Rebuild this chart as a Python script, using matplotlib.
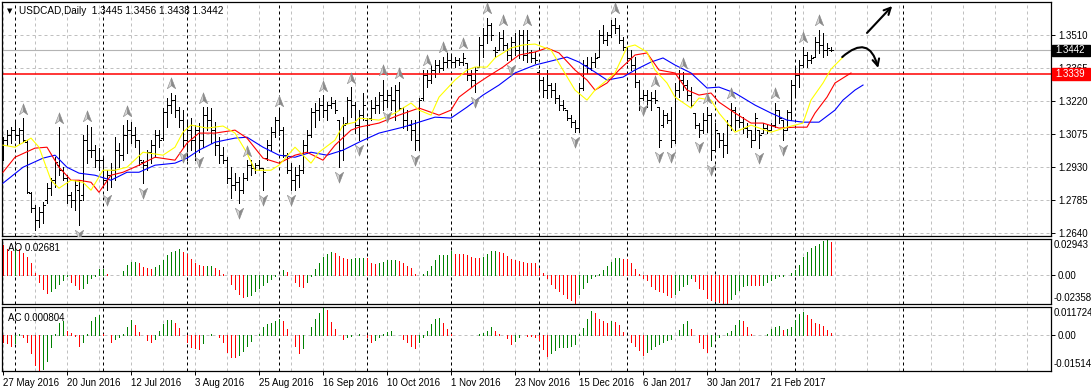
import matplotlib
matplotlib.use("Agg")
import matplotlib.pyplot as plt
import matplotlib.transforms as mtransforms
from matplotlib.collections import LineCollection
from matplotlib.patches import Rectangle
from matplotlib.path import Path
import numpy as np

plt.rcParams['font.family'] = ['Liberation Sans', 'DejaVu Sans']

# ---------------- data (USDCAD daily, 27 May 2016 .. 14 Mar 2017) ----------------
highs = [
    1.3061, 1.3092, 1.3105, 1.3127, 1.3101, 1.3145, 1.3048, 1.2819,
    1.2762, 1.2753, 1.2775, 1.2859, 1.2881, 1.2973, 1.3105, 1.2929,
    1.2894, 1.2819, 1.2872, 1.2872, 1.3070, 1.3114, 1.3105, 1.3026,
    1.3013, 1.2973, 1.2916, 1.2947, 1.3061, 1.3035, 1.3114, 1.3136,
    1.3127, 1.3105, 1.3048, 1.2960, 1.3004, 1.3048, 1.3092, 1.3092,
    1.3189, 1.3233, 1.3255, 1.3246, 1.3193, 1.3180, 1.3127, 1.3145,
    1.3114, 1.3123, 1.3193, 1.3193, 1.3189, 1.3127, 1.3061, 1.3017,
    1.2973, 1.2929, 1.2903, 1.2885, 1.2903, 1.2960, 1.2960, 1.2947,
    1.2960, 1.2925, 1.3048, 1.3105, 1.3149, 1.3180, 1.3105, 1.2991,
    1.2947, 1.2929, 1.2938, 1.3048, 1.3092, 1.3189, 1.3211, 1.3233,
    1.3246, 1.3215, 1.3237, 1.3224, 1.3136, 1.3149, 1.3237, 1.3281,
    1.3215, 1.3180, 1.3255, 1.3145, 1.3224, 1.3237, 1.3259, 1.3312,
    1.3268, 1.3281, 1.3290, 1.3303, 1.3193, 1.3180, 1.3136, 1.3136,
    1.3233, 1.3356, 1.3356, 1.3378, 1.3400, 1.3400, 1.3413, 1.3431,
    1.3422, 1.3413, 1.3409, 1.3431, 1.3387, 1.3356, 1.3369, 1.3501,
    1.3541, 1.3585, 1.3563, 1.3457, 1.3523, 1.3532, 1.3475, 1.3501,
    1.3519, 1.3532, 1.3532, 1.3532, 1.3444, 1.3435, 1.3356, 1.3325,
    1.3356, 1.3299, 1.3299, 1.3246, 1.3224, 1.3180, 1.3158, 1.3136,
    1.3299, 1.3400, 1.3413, 1.3413, 1.3431, 1.3532, 1.3554, 1.3523,
    1.3576, 1.3585, 1.3554, 1.3501, 1.3457, 1.3444, 1.3413, 1.3312,
    1.3268, 1.3268, 1.3259, 1.3268, 1.3193, 1.3180, 1.3167, 1.3193,
    1.3299, 1.3356, 1.3347, 1.3312, 1.3281, 1.3167, 1.3123, 1.3167,
    1.3193, 1.3167, 1.3123, 1.3079, 1.3079, 1.3136, 1.3211, 1.3193,
    1.3167, 1.3149, 1.3123, 1.3092, 1.3167, 1.3092, 1.3123, 1.3114,
    1.3123, 1.3211, 1.3180, 1.3136, 1.3180, 1.3312, 1.3369, 1.3400,
    1.3457, 1.3435, 1.3422, 1.3501, 1.3532, 1.3519, 1.3475, 1.3456,
]
lows = [
    1.2960, 1.3026, 1.3035, 1.3048, 1.3035, 1.3039, 1.2815, 1.2731,
    1.2652, 1.2665, 1.2683, 1.2771, 1.2806, 1.2841, 1.2894, 1.2872,
    1.2771, 1.2753, 1.2740, 1.2674, 1.2784, 1.2947, 1.2973, 1.2929,
    1.2916, 1.2850, 1.2828, 1.2841, 1.2872, 1.2929, 1.2960, 1.2991,
    1.3035, 1.3017, 1.2938, 1.2859, 1.2916, 1.2947, 1.2973, 1.3017,
    1.3048, 1.3105, 1.3167, 1.3149, 1.3105, 1.3017, 1.2960, 1.3004,
    1.2960, 1.2995, 1.3017, 1.3092, 1.3035, 1.2982, 1.2947, 1.2947,
    1.2859, 1.2793, 1.2828, 1.2771, 1.2815, 1.2872, 1.2894, 1.2903,
    1.2916, 1.2828, 1.2960, 1.3004, 1.3061, 1.3070, 1.2973, 1.2903,
    1.2828, 1.2828, 1.2841, 1.2903, 1.2991, 1.3061, 1.3105, 1.3136,
    1.3149, 1.3136, 1.3189, 1.3167, 1.2929, 1.2960, 1.3123, 1.3149,
    1.3079, 1.3048, 1.3136, 1.3061, 1.3136, 1.3167, 1.3167, 1.3180,
    1.3193, 1.3180, 1.3136, 1.3180, 1.3101, 1.3092, 1.3048, 1.3004,
    1.3004, 1.3224, 1.3281, 1.3299, 1.3325, 1.3347, 1.3356, 1.3369,
    1.3378, 1.3369, 1.3378, 1.3378, 1.3312, 1.3281, 1.3259, 1.3369,
    1.3413, 1.3475, 1.3488, 1.3413, 1.3444, 1.3444, 1.3400, 1.3400,
    1.3422, 1.3409, 1.3400, 1.3391, 1.3391, 1.3387, 1.3268, 1.3237,
    1.3233, 1.3237, 1.3211, 1.3180, 1.3180, 1.3136, 1.3105, 1.3083,
    1.3083, 1.3268, 1.3343, 1.3356, 1.3369, 1.3413, 1.3475, 1.3466,
    1.3501, 1.3519, 1.3475, 1.3444, 1.3387, 1.3356, 1.3281, 1.3180,
    1.3224, 1.3193, 1.3180, 1.3211, 1.3017, 1.3105, 1.3123, 1.3017,
    1.3035, 1.3237, 1.3268, 1.3224, 1.3193, 1.3101, 1.3061, 1.3079,
    1.3083, 1.2960, 1.3004, 1.3017, 1.2973, 1.2991, 1.3092, 1.3092,
    1.3105, 1.3079, 1.3061, 1.3017, 1.3048, 1.3013, 1.3079, 1.3079,
    1.3092, 1.3105, 1.3123, 1.3048, 1.3092, 1.3136, 1.3237, 1.3281,
    1.3369, 1.3369, 1.3387, 1.3413, 1.3431, 1.3413, 1.3422, 1.3438,
]
opens = [
    1.2982, 1.3048, 1.3070, 1.3092, 1.3070, 1.3092, 1.3039, 1.2815,
    1.2749, 1.2696, 1.2731, 1.2784, 1.2837, 1.2872, 1.2938, 1.2916,
    1.2881, 1.2806, 1.2784, 1.2828, 1.2806, 1.3048, 1.3004, 1.3004,
    1.2960, 1.2960, 1.2872, 1.2894, 1.2916, 1.3004, 1.2982, 1.3070,
    1.3092, 1.3070, 1.3048, 1.2951, 1.2938, 1.2995, 1.3026, 1.3070,
    1.3057, 1.3171, 1.3202, 1.3224, 1.3180, 1.3136, 1.3048, 1.3092,
    1.3048, 1.3092, 1.3048, 1.3158, 1.3136, 1.3092, 1.3026, 1.2982,
    1.2960, 1.2881, 1.2850, 1.2863, 1.2828, 1.2881, 1.2938, 1.2925,
    1.2938, 1.2925, 1.2969, 1.3026, 1.3083, 1.3136, 1.3092, 1.2982,
    1.2916, 1.2872, 1.2894, 1.2916, 1.3026, 1.3070, 1.3171, 1.3180,
    1.3202, 1.3180, 1.3202, 1.3211, 1.3136, 1.3004, 1.3123, 1.3224,
    1.3202, 1.3114, 1.3158, 1.3136, 1.3145, 1.3189, 1.3202, 1.3246,
    1.3224, 1.3246, 1.3224, 1.3268, 1.3189, 1.3136, 1.3114, 1.3092,
    1.3048, 1.3233, 1.3334, 1.3312, 1.3356, 1.3378, 1.3365, 1.3391,
    1.3400, 1.3391, 1.3400, 1.3391, 1.3387, 1.3334, 1.3312, 1.3369,
    1.3466, 1.3510, 1.3554, 1.3444, 1.3444, 1.3497, 1.3466, 1.3422,
    1.3479, 1.3444, 1.3510, 1.3422, 1.3435, 1.3409, 1.3347, 1.3312,
    1.3268, 1.3290, 1.3268, 1.3233, 1.3202, 1.3180, 1.3145, 1.3127,
    1.3101, 1.3277, 1.3378, 1.3365, 1.3391, 1.3413, 1.3510, 1.3488,
    1.3510, 1.3554, 1.3541, 1.3488, 1.3457, 1.3409, 1.3378, 1.3303,
    1.3233, 1.3246, 1.3224, 1.3233, 1.3193, 1.3114, 1.3158, 1.3136,
    1.3048, 1.3268, 1.3312, 1.3290, 1.3246, 1.3167, 1.3114, 1.3092,
    1.3136, 1.3158, 1.3004, 1.3079, 1.3048, 1.3026, 1.3114, 1.3180,
    1.3136, 1.3127, 1.3101, 1.3092, 1.3048, 1.3092, 1.3079, 1.3101,
    1.3092, 1.3114, 1.3180, 1.3136, 1.3092, 1.3171, 1.3290, 1.3334,
    1.3378, 1.3422, 1.3400, 1.3413, 1.3479, 1.3466, 1.3444, 1.3445,
]
closes = [
    1.3048, 1.3070, 1.3092, 1.3070, 1.3092, 1.3048, 1.2819, 1.2749,
    1.2696, 1.2731, 1.2762, 1.2837, 1.2872, 1.2951, 1.2916, 1.2881,
    1.2806, 1.2784, 1.2850, 1.2784, 1.3048, 1.3004, 1.3004, 1.2960,
    1.2960, 1.2872, 1.2894, 1.2916, 1.3004, 1.2982, 1.3070, 1.3092,
    1.3070, 1.3048, 1.2960, 1.2938, 1.2995, 1.3026, 1.3070, 1.3048,
    1.3171, 1.3202, 1.3224, 1.3180, 1.3136, 1.3048, 1.3092, 1.3048,
    1.3092, 1.3048, 1.3158, 1.3136, 1.3092, 1.3026, 1.2982, 1.2960,
    1.2881, 1.2850, 1.2863, 1.2828, 1.2881, 1.2938, 1.2925, 1.2938,
    1.2925, 1.2907, 1.3026, 1.3083, 1.3136, 1.3092, 1.2982, 1.2916,
    1.2872, 1.2894, 1.2916, 1.3026, 1.3070, 1.3171, 1.3180, 1.3202,
    1.3180, 1.3202, 1.3211, 1.3180, 1.3004, 1.3114, 1.3224, 1.3202,
    1.3114, 1.3158, 1.3202, 1.3114, 1.3189, 1.3202, 1.3246, 1.3224,
    1.3246, 1.3224, 1.3268, 1.3189, 1.3136, 1.3114, 1.3092, 1.3048,
    1.3224, 1.3334, 1.3312, 1.3356, 1.3378, 1.3365, 1.3391, 1.3400,
    1.3391, 1.3400, 1.3391, 1.3409, 1.3334, 1.3312, 1.3356, 1.3466,
    1.3510, 1.3554, 1.3510, 1.3435, 1.3497, 1.3466, 1.3422, 1.3479,
    1.3444, 1.3510, 1.3422, 1.3488, 1.3409, 1.3400, 1.3312, 1.3268,
    1.3290, 1.3268, 1.3233, 1.3202, 1.3189, 1.3145, 1.3127, 1.3101,
    1.3277, 1.3378, 1.3365, 1.3391, 1.3409, 1.3510, 1.3488, 1.3510,
    1.3554, 1.3541, 1.3488, 1.3457, 1.3409, 1.3378, 1.3303, 1.3233,
    1.3246, 1.3224, 1.3233, 1.3224, 1.3048, 1.3158, 1.3136, 1.3048,
    1.3268, 1.3312, 1.3290, 1.3246, 1.3202, 1.3114, 1.3092, 1.3136,
    1.3158, 1.3004, 1.3092, 1.3048, 1.3026, 1.3114, 1.3180, 1.3136,
    1.3127, 1.3101, 1.3092, 1.3048, 1.3145, 1.3070, 1.3101, 1.3092,
    1.3114, 1.3180, 1.3145, 1.3092, 1.3171, 1.3290, 1.3334, 1.3378,
    1.3422, 1.3400, 1.3409, 1.3479, 1.3466, 1.3444, 1.3453, 1.3442,
]

# Alligator lines (already shifted forward, read at sample bars)
jaw_idx = [0, 5, 10, 13, 16, 19, 23, 27, 31, 34, 38, 43, 46, 49, 53, 58, 61, 65, 69, 73,
           77, 81, 85, 89, 94, 100, 104, 108, 112, 116, 120, 124, 128, 133, 136, 141, 144, 148, 151, 155,
           158, 162, 165, 168, 172, 176, 179, 183, 188, 192, 196, 200, 204, 208, 210, 213, 215]
jaw_vals = [1.2859, 1.2929, 1.2969, 1.2982, 1.2929, 1.2903, 1.2894, 1.2872, 1.2907, 1.2907,
            1.2938, 1.2947, 1.2969, 1.3004, 1.3039, 1.3057, 1.3061, 1.3017, 1.2982, 1.2973,
            1.2995, 1.2982, 1.3004, 1.3039, 1.3079, 1.3105, 1.3127, 1.3149, 1.3145, 1.3193,
            1.3246, 1.3290, 1.3343, 1.3378, 1.3391, 1.3413, 1.3391, 1.3347, 1.3312, 1.3325,
            1.3356, 1.3391, 1.3409, 1.3378, 1.3343, 1.3277, 1.3281, 1.3255, 1.3202, 1.3167,
            1.3136, 1.3127, 1.3127, 1.3180, 1.3224, 1.3268, 1.3290]
teeth_idx = [0, 3, 8, 11, 14, 17, 19, 22, 24, 27, 30, 34, 38, 43, 46, 49, 53, 58, 61, 65,
             69, 73, 76, 80, 83, 87, 89, 94, 99, 104, 109, 112, 114, 118, 121, 125, 129, 133, 136, 139,
             143, 146, 148, 151, 154, 158, 161, 164, 168, 171, 174, 177, 179, 183, 187, 190, 194, 198, 201, 203,
             206, 208, 212]
teeth_vals = [1.2907, 1.2973, 1.3013, 1.3017, 1.2929, 1.2872, 1.2872, 1.2863, 1.2819, 1.2894,
              1.2907, 1.2938, 1.2973, 1.2960, 1.3035, 1.3079, 1.3079, 1.3092, 1.3057, 1.2969,
              1.2947, 1.2982, 1.2995, 1.2960, 1.3026, 1.3092, 1.3105, 1.3123, 1.3158, 1.3189,
              1.3158, 1.3180, 1.3237, 1.3290, 1.3325, 1.3369, 1.3422, 1.3435, 1.3453, 1.3431,
              1.3356, 1.3312, 1.3268, 1.3299, 1.3356, 1.3422, 1.3431, 1.3356, 1.3343, 1.3268,
              1.3246, 1.3255, 1.3215, 1.3167, 1.3123, 1.3123, 1.3101, 1.3105, 1.3105, 1.3167,
              1.3237, 1.3299, 1.3343]
lips_idx = [0, 3, 7, 9, 12, 14, 17, 20, 22, 25, 28, 31, 35, 40, 43, 45, 47, 51, 55, 58,
            61, 63, 67, 69, 73, 77, 79, 83, 85, 88, 89, 94, 98, 102, 104, 107, 109, 113, 116, 118,
            121, 123, 127, 130, 133, 137, 140, 143, 146, 148, 151, 153, 156, 158, 161, 163, 166, 168, 172, 174,
            177, 179, 183, 187, 192, 196, 200, 202, 205, 207, 210]
lips_vals = [1.3026, 1.3017, 1.3057, 1.3017, 1.2872, 1.2837, 1.2872, 1.2863, 1.2828, 1.2916,
             1.2916, 1.2929, 1.2995, 1.2982, 1.3017, 1.3083, 1.3114, 1.3101, 1.3110, 1.3079,
             1.2991, 1.2916, 1.2916, 1.2938, 1.3017, 1.2947, 1.2995, 1.3048, 1.3114, 1.3127,
             1.3145, 1.3136, 1.3167, 1.3211, 1.3180, 1.3158, 1.3237, 1.3312, 1.3356, 1.3369,
             1.3369, 1.3409, 1.3453, 1.3466, 1.3470, 1.3444, 1.3356, 1.3268, 1.3224, 1.3268,
             1.3312, 1.3343, 1.3457, 1.3466, 1.3435, 1.3356, 1.3299, 1.3237, 1.3189, 1.3233,
             1.3224, 1.3167, 1.3083, 1.3114, 1.3083, 1.3105, 1.3123, 1.3224, 1.3299, 1.3360,
             1.3413]

# Fractal bars
fractal_up = [5, 14, 21, 31, 42, 50, 61, 69, 80, 87, 95, 99, 106, 110, 115, 121, 125, 131,
              153, 163, 170, 176, 182, 193, 200, 204]
fractal_down = [8, 19, 26, 35, 45, 49, 59, 65, 72, 84, 89, 96, 103, 118, 127, 143, 160, 164,
                167, 174, 177, 189, 195]

# Awesome Oscillator
ao = [0.0243, 0.0213, 0.0198, 0.0207, 0.0207, 0.0177, 0.0147, 0.0093, 0.0012, -0.0057,
      -0.0117, -0.0147, -0.0132, -0.0108, -0.0072, -0.0042, -0.0012, -0.0057, -0.0081, -0.0117,
      -0.0102, -0.0066, -0.0027, -0.0006, 0.0048, 0.0051, 0.0009, 0.0003, -0.0002, -0.0001,
      0.0033, 0.0078, 0.0102, 0.0105, 0.0099, 0.0063, 0.0054, 0.0048, 0.0063, 0.0084,
      0.0123, 0.0159, 0.0183, 0.0198, 0.0213, 0.0183, 0.0168, 0.0129, 0.0099, 0.0078,
      0.0072, 0.0073, 0.0075, 0.0057, 0.0039, 0.0009, -0.0003, -0.0072, -0.0117, -0.0153,
      -0.0183, -0.0171, -0.0162, -0.0132, -0.0102, -0.0081, -0.0057, -0.0036, -0.0009, 0.0003,
      0.0039, 0.0024, -0.0003, -0.0057, -0.0087, -0.0096, -0.0057, -0.0012, 0.0048, 0.0099,
      0.0147, 0.0168, 0.0183, 0.0177, 0.0153, 0.0138, 0.0132, 0.0133, 0.0135, 0.0138,
      0.0139, 0.0135, 0.0093, 0.0087, 0.0099, 0.0108, 0.0123, 0.0124, 0.0125, 0.0117,
      0.0093, 0.0069, 0.0057, 0.0009, 0.0001, 0.0009, 0.0033, 0.0072, 0.0123, 0.0159,
      0.0162, 0.0163, 0.0192, 0.0174, 0.0173, 0.0172, 0.0165, 0.0147, 0.0138, 0.0137,
      0.0144, 0.0168, 0.0192, 0.0198, 0.0183, 0.0177, 0.0153, 0.0129, 0.0123, 0.0117,
      0.0108, 0.0099, 0.0098, 0.0093, 0.0060, 0.0015,
      -0.0027, -0.0072, -0.0102, -0.0132, -0.0156, -0.0186, -0.0207, -0.0228, -0.0156, -0.0102,
      -0.0057, -0.0027, -0.0006, 0.0009, 0.0039, 0.0072, 0.0108, 0.0135, 0.0136, 0.0132,
      0.0129, 0.0093, 0.0048, 0.0009, -0.0021, -0.0042, -0.0087, -0.0117, -0.0132, -0.0141,
      -0.0162, -0.0183, -0.0153, -0.0126, -0.0087, -0.0072, -0.0027, -0.0051, -0.0102, -0.0117,
      -0.0186, -0.0201, -0.0213, -0.0222, -0.0228, -0.02358, -0.0192, -0.0156, -0.0123, -0.0087,
      -0.0081, -0.0082, -0.0083, -0.0084, -0.0078, -0.0057, -0.0042, -0.0021, -0.0009, -0.0006,
      -0.0001, 0.0012, 0.0039, 0.0078, 0.0147, 0.0189, 0.0222, 0.0237, 0.0252, 0.0273,
      0.02943, 0.02681]

# Accelerator Oscillator
ac = [-0.0032, -0.0035, -0.0045, -0.0035, 0.0002, -0.0008, -0.0029, -0.0077, -0.0128, -0.01514,
      -0.0141, -0.0109, -0.0053, 0.0002, 0.0051, 0.0059, 0.0016, 0.0006, -0.0006, -0.0048,
      -0.0029, 0.0002, 0.0056, 0.0075, 0.0083, 0.0003, -0.0002, -0.0032, -0.0019, -0.0008,
      0.0005, 0.0032, 0.0061, 0.0040, 0.0013, -0.0002, -0.0021, -0.0029, -0.0016, 0.0016,
      0.0043, 0.0061, 0.0062, 0.0048, 0.0029, -0.0002, -0.0029, -0.0053, -0.0056, -0.0058,
      -0.0035, -0.0002, 0.0002, -0.0003, -0.0008, -0.0032, -0.0072, -0.0091, -0.0093, -0.0083,
      -0.0069, -0.0045, -0.0024, -0.0002, 0.0003, 0.0032, 0.0043, 0.0051, 0.0058, 0.0064,
      0.0056, 0.0024, -0.0002, -0.0048, -0.0077, -0.0056, -0.0003, 0.0032, 0.0067, 0.0093,
      0.011724, 0.0104, 0.0054, 0.0024, -0.0003, -0.0019, -0.0010, -0.0005, -0.0002, 0.0002,
      0.0001, -0.0008, -0.0029, -0.0021, -0.0008, 0.0005, 0.0013, 0.0016, -0.0002, -0.0003,
      -0.0016, -0.0032, -0.0048, -0.0056, -0.0029, -0.0008, 0.0016, 0.0045, 0.0067, 0.0072,
      0.0051, 0.0024, 0.0003, -0.0002, -0.0001, -0.0002, -0.0003, 0.0001, -0.0003, 0.0003,
      0.0008, 0.0016, 0.0034, 0.0016, 0.0003, -0.0003, -0.0013, -0.0040, -0.0024, -0.0008,
      -0.0003, -0.0005, -0.0006, -0.0008, -0.0020, -0.0060, -0.0088, -0.0077, -0.0064, -0.0053,
      -0.0051, -0.0050, -0.0048, -0.0037, 0.0003, 0.0027, 0.0067, 0.0101, 0.0091, 0.0067,
      0.0056, 0.0051, 0.0056, 0.0054, 0.0040, 0.0013, -0.0002, -0.0029, -0.0045, -0.0064,
      -0.0083, -0.0072, -0.0061, -0.0048, -0.0040, -0.0032, -0.0022, -0.0016, -0.0003, 0.0019,
      0.0045, 0.0056, 0.0024, -0.0002, -0.0032, -0.0056, -0.0072, -0.0048, -0.0019, -0.0008,
      -0.0002, 0.0008, 0.0016, 0.0040, 0.0061, 0.0059, 0.0032, 0.0005, 0.0001, -0.0002,
      -0.0003, 0.0002, 0.0024, 0.0032, 0.0035, 0.0019, 0.0024, 0.0032, 0.0061, 0.0088,
      0.0096, 0.0083, 0.0067, 0.0051, 0.0045, 0.0035, 0.0019, 0.000804]

date_labels = ['27 May 2016', '20 Jun 2016', '12 Jul 2016', '3 Aug 2016', '25 Aug 2016',
               '16 Sep 2016', '10 Oct 2016', '1 Nov 2016', '23 Nov 2016', '15 Dec 2016',
               '6 Jan 2017', '30 Jan 2017', '21 Feb 2017']
date_label_idx = [0, 16, 32, 48, 64, 80, 96, 112, 128, 144, 160, 176, 192]
month_starts = [3, 25, 46, 69, 91, 112, 134, 156, 178, 198, 225]
price_levels = [1.2640, 1.2785, 1.2930, 1.3075, 1.3220, 1.3365, 1.3510]
bid_price = 1.3442
level_price = 1.3339
ao_max, ao_min = 0.02943, -0.02358
ac_max, ac_min = 0.011724, -0.01514
header = "USDCAD,Daily  1.3445 1.3456 1.3438 1.3442"

# ---------------- figure ----------------
W, H = 1091, 392
fig = plt.figure(figsize=(W / 100, H / 100), dpi=100)
fig.patch.set_facecolor('white')

L_PX, R_PX = 2, 1051


def add_panel(top, bottom):
    return fig.add_axes([L_PX / W, 1 - bottom / H, (R_PX - L_PX) / W, (bottom - top) / H])


ax = add_panel(1.5, 236)
ax_ao = add_panel(238.7, 304)
ax_ac = add_panel(306.7, 371)

XMAX = 262
GRID = '#c0c0c0'
FS = 7
n = len(highs)

for a in (ax, ax_ao, ax_ac):
    a.set_xlim(-0.25, XMAX)
    a.set_facecolor('white')
    for s in a.spines.values():
        s.set_linewidth(0.9)
        s.set_color('black')
    a.tick_params(axis='x', bottom=False, labelbottom=False)
    for g in range(0, XMAX, 8):
        a.axvline(g, color=GRID, lw=0.72, ls=(0, (3, 3)), zorder=0.5)
    for m in month_starts:
        a.axvline(m, color='black', lw=0.72, ls=(0, (3, 3)), zorder=0.6)

# ---- main price panel ----
ax.set_ylim(1.2627, 1.3657)
for lv in price_levels:
    ax.axhline(lv, color=GRID, lw=0.72, ls=(0, (3, 3)), zorder=0.5)
ax.axhline(bid_price, color='#b4b4b4', lw=0.8, zorder=0.7)

segs = []
for i in range(n):
    segs.append([(i, lows[i]), (i, highs[i])])
    segs.append([(i - 0.4, opens[i]), (i, opens[i])])
    segs.append([(i, closes[i]), (i + 0.4, closes[i])])
ax.add_collection(LineCollection(segs, colors='black', linewidths=0.6,
                                 antialiased=False, zorder=2))

ax.plot(jaw_idx, jaw_vals, color='#0000ff', lw=0.8, zorder=3)
ax.plot(teeth_idx, teeth_vals, color='#ff0000', lw=0.8, zorder=3.1)
ax.plot(lips_idx, lips_vals, color='#ffff00', lw=0.8, zorder=3.2)

ax.axhline(level_price, color='#ff0000', lw=1.1, zorder=2.5)

# fractal arrows (two-tone arrowheads)
C4 = [Path.MOVETO, Path.LINETO, Path.LINETO, Path.CLOSEPOLY]
up_left = Path([(0, 1), (0, -0.4), (-0.75, -0.95), (0, 1)], C4)
up_right = Path([(0, 1), (0.75, -0.95), (0, -0.4), (0, 1)], C4)
dn_left = Path([(0, -1), (0, 0.4), (-0.75, 0.95), (0, -1)], C4)
dn_right = Path([(0, -1), (0.75, 0.95), (0, 0.4), (0, -1)], C4)
hi = np.array(highs)
lo = np.array(lows)
off = 0.0042
ux = np.array(fractal_up)
dx = np.array(fractal_down)
for mk, col in ((up_left, '#d4d4d4'), (up_right, '#8a8a8a')):
    ax.plot(ux, hi[ux] + off, ls='none', marker=mk, ms=8, mfc=col, mec='#8a8a8a',
            mew=0.4, zorder=4)
for mk, col in ((dn_left, '#d4d4d4'), (dn_right, '#8a8a8a')):
    ax.plot(dx, lo[dx] - off, ls='none', marker=mk, ms=8, mfc=col, mec='#8a8a8a',
            mew=0.4, zorder=4)

# hand-drawn arrows
ax.annotate('', xy=(222.3, 1.3637), xytext=(216.0, 1.3519),
            arrowprops=dict(arrowstyle='->', lw=1.5, color='black', mutation_scale=12,
                            shrinkA=0, shrinkB=0), annotation_clip=False, zorder=5)
ax.annotate('', xy=(218.8, 1.3365), xytext=(209.8, 1.3413),
            arrowprops=dict(arrowstyle='->', lw=1.5, color='black', mutation_scale=12,
                            connectionstyle='arc3,rad=-0.8', shrinkA=0, shrinkB=0),
            annotation_clip=False, zorder=5)

# right price axis
ax.yaxis.tick_right()
ax.set_yticks(price_levels)
ax.set_yticklabels([f'{v:.4f}' for v in price_levels])
ax.tick_params(axis='y', length=3, width=0.7, pad=2, labelsize=FS, direction='out')

blend = mtransforms.blended_transform_factory(ax.transAxes, ax.transData)
box_w = 38 / (R_PX - L_PX)
box_h = 0.0052
for price, col in ((bid_price, 'black'), (level_price, '#ff0000')):
    ax.add_patch(Rectangle((1.0005, price - box_h / 2), box_w, box_h, transform=blend,
                           facecolor=col, edgecolor=col, clip_on=False, zorder=6))
    ax.text(1.0005 + box_w / 2, price, f'{price:.4f}', transform=blend, ha='center',
            va='center', color='white', fontsize=FS, zorder=7, clip_on=False)


def px_to_axes(px, py, top, bottom):
    return (px - L_PX) / (R_PX - L_PX), (bottom - py) / (bottom - top)


hx, hy = px_to_axes(9.5, 11, 1.5, 236)
ax.text(hx, hy, '\u25BC', transform=ax.transAxes, ha='center', va='center', fontsize=5,
        family=['DejaVu Sans'], color='black')
hx, hy = px_to_axes(19, 11, 1.5, 236)
ax.text(hx, hy, header, transform=ax.transAxes, ha='left', va='center', fontsize=7.2,
        color='black')

# ---- AO panel ----
ax_ao.set_ylim(ao_min, ao_max)
ax_ao.axhline(0, color=GRID, lw=0.72, ls=(0, (3, 3)), zorder=0.5)
ao_arr = np.array(ao)
ao_cols = ['#ff0000'] + ['#008000' if ao_arr[i] > ao_arr[i - 1] else '#ff0000'
                         for i in range(1, len(ao_arr))]
ax_ao.vlines(np.arange(len(ao_arr)), 0, ao_arr, colors=ao_cols, lw=0.6,
             antialiased=False, zorder=2)
ax_ao.yaxis.tick_right()
ax_ao.set_yticks([0])
ax_ao.set_yticklabels(['0.00'])
ax_ao.tick_params(axis='y', length=3, width=0.7, pad=2, labelsize=FS, direction='out')
tx, ty = px_to_axes(1054, 245, 238.7, 304)
ax_ao.text(tx, ty, f'{ao_max:.5f}', transform=ax_ao.transAxes, ha='left', va='center',
           fontsize=FS, clip_on=False)
tx, ty = px_to_axes(1054, 298, 238.7, 304)
ax_ao.text(tx, ty, f'{ao_min:.5f}', transform=ax_ao.transAxes, ha='left', va='center',
           fontsize=FS, clip_on=False)
tx, ty = px_to_axes(8, 248, 238.7, 304)
ax_ao.text(tx, ty, f'AO {ao[-1]:.5f}', transform=ax_ao.transAxes, ha='left', va='center',
           fontsize=FS)

# ---- AC panel ----
ax_ac.set_ylim(ac_min, ac_max)
ax_ac.axhline(0, color=GRID, lw=0.72, ls=(0, (3, 3)), zorder=0.5)
ac_arr = np.array(ac)
ac_cols = ['#ff0000'] + ['#008000' if ac_arr[i] > ac_arr[i - 1] else '#ff0000'
                         for i in range(1, len(ac_arr))]
ax_ac.vlines(np.arange(len(ac_arr)), 0, ac_arr, colors=ac_cols, lw=0.6,
             antialiased=False, zorder=2)
ax_ac.yaxis.tick_right()
ax_ac.set_yticks([0])
ax_ac.set_yticklabels(['0.00'])
ax_ac.tick_params(axis='y', length=3, width=0.7, pad=2, labelsize=FS, direction='out')
tx, ty = px_to_axes(1054, 313.3, 306.7, 371)
ax_ac.text(tx, ty, f'{ac_max:.6f}', transform=ax_ac.transAxes, ha='left', va='center',
           fontsize=FS, clip_on=False)
tx, ty = px_to_axes(1054, 364.3, 306.7, 371)
ax_ac.text(tx, ty, f'{ac_min:.5f}', transform=ax_ac.transAxes, ha='left', va='center',
           fontsize=FS, clip_on=False)
tx, ty = px_to_axes(8, 318, 306.7, 371)
ax_ac.text(tx, ty, f'AC {ac[-1]:.6f}', transform=ax_ac.transAxes, ha='left', va='center',
           fontsize=FS)

ax_ac.set_xticks(date_label_idx)
ax_ac.set_xticklabels(date_labels, ha='left')
ax_ac.tick_params(axis='x', bottom=True, labelbottom=True, length=3, width=0.7, pad=2,
                  labelsize=FS, direction='out')

fig.savefig('out.png', dpi=100, facecolor='white')
